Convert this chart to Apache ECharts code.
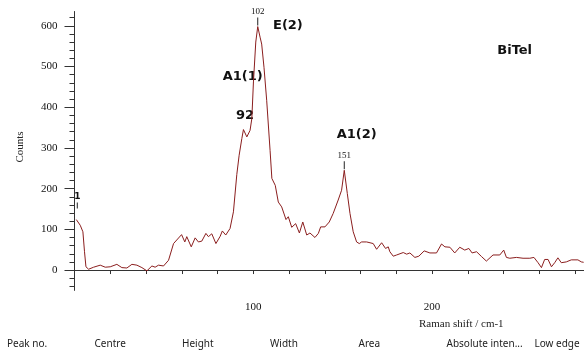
<!DOCTYPE html>
<html>
<head>
<meta charset="utf-8">
<script src="https://cdn.jsdelivr.net/npm/echarts@6/dist/echarts.min.js"></script>
<style>
  html, body { margin: 0; padding: 0; background: #fff; }
  #chart { width: 584px; height: 354px; }
</style>
</head>
<body>
<div id="chart"></div>
<script>
// Raman spectrum of BiTel
var ramanShift = [1.0, 3.2, 4.7, 5.6, 6.4, 7.9, 10.7, 14.4, 17.2, 20.0, 23.7, 26.5, 29.3, 32.1, 34.9, 37.7, 40.5, 43.3, 45.1, 47.0,
  49.8, 50.7, 52.6, 55.4, 59.9, 61.7, 62.8, 65.3, 67.5, 69.3, 71.2, 73.5, 74.9, 76.8, 79.1, 81.5, 82.7, 84.6, 87.0, 88.9,
  90.8, 92.1, 93.6, 94.5, 96.4, 98.2, 99.2, 100.1, 101.4, 102.5, 103.8, 104.7, 106.0, 107.5, 109.4, 110.4, 112.3, 114.0, 115.9, 118.3,
  119.6, 121.5, 123.7, 125.8, 127.7, 129.9, 131.7, 134.5, 136.4, 137.7, 140.1, 142.5, 144.7, 147.5, 149.4, 150.9, 152.6, 154.1, 155.9, 157.8,
  159.3, 160.6, 163.4, 165.3, 167.1, 169.0, 171.8, 174.0, 175.5, 176.4, 178.3, 180.2, 183.9, 185.8, 187.6, 190.4, 192.6, 195.6, 198.8, 202.5,
  205.3, 207.2, 210.0, 212.7, 215.5, 218.3, 220.6, 222.4, 224.9, 227.7, 230.4, 234.1, 237.9, 240.1, 241.6, 243.5, 247.2, 250.9, 254.7, 257.0,
  259.3, 261.2, 263.0, 264.9, 266.8, 268.6, 270.4, 272.3, 275.1, 277.9, 281.6, 283.5, 284.8];
var counts = [124, 110, 94, 45, 8, 2, 7, 12, 7, 8, 14, 6, 5, 14, 12, 6, -2, 10, 7, 12,
  10, 14, 24, 65, 87, 69, 82, 57, 79, 69, 71, 90, 82, 89, 65, 83, 96, 86, 102, 143,
  235, 282, 323, 345, 327, 343, 372, 462, 560, 598, 572, 555, 498, 417, 294, 225, 208, 167, 155, 124,
  131, 105, 114, 91, 118, 86, 91, 80, 90, 106, 106, 118, 139, 172, 196, 245, 188, 139, 94, 69,
  65, 69, 69, 67, 65, 51, 67, 53, 57, 45, 34, 37, 43, 39, 42, 31, 34, 47, 42, 42,
  64, 57, 56, 42, 56, 49, 53, 42, 45, 33, 22, 37, 37, 49, 31, 29, 31, 29, 29, 31,
  18, 6, 26, 26, 8, 18, 30, 18, 20, 25, 25, 20, 19];

// axis ticks and labels
var yMajorTicks = [0, 100, 200, 300, 400, 500, 600];
var yMinorTicks = [-40, -20, 0, 20, 40, 60, 80, 100, 120, 140, 160, 180, 200, 220, 240, 260, 280, 300, 320, 340,
  360, 380, 400, 420, 440, 460, 480, 500, 520, 540, 560, 580, 600, 620];
var xTicks = [20, 40, 60, 80, 100, 120, 140, 160, 180, 200, 220, 240, 260, 280];
var xLabels = [100, 200];

// peak markers
var peakShift = [1.0, 102.5, 150.9];
var peakText = ['1', '102', '151'];

// band assignments and table header
var bandText = ['E(2)', 'A1(1)', '92', 'A1(2)', 'BiTel'];
var headerText = ['Peak no.', 'Centre', 'Height', 'Width', 'Area', 'Absolute inten...', 'Low edge'];

var lineColor = '#8b1e1e';
var serif = '"Liberation Serif", "DejaVu Serif", serif';
var bold = '"DejaVu Sans", Verdana, sans-serif';

var chart = echarts.init(document.getElementById('chart'));

var seriesData = ramanShift.map(function (x, i) { return [x, counts[i]]; });

var markData = peakShift.map(function (x, i) {
  var y = counts[ramanShift.indexOf(x)];
  var first = i === 0;
  return {
    coord: [x, y],
    value: peakText[i],
    symbol: 'rect',
    symbolSize: first ? [1, 6] : [1, 8],
    symbolOffset: first ? [1, -14] : [0, -5],
    label: {
      show: true,
      position: 'top',
      distance: 1,
      formatter: peakText[i],
      color: '#111',
      fontFamily: first ? bold : serif,
      fontWeight: first ? 'bold' : 'normal',
      fontSize: 9
    }
  };
});

var bandPos = [[273, 25.7], [222.7, 77], [236, 115.5], [336.7, 134.3], [497.3, 51]];
var headerX = [7, 94.5, 182, 270, 358.5, 446.5, 534.5];

var graphics = [];
bandText.forEach(function (t, i) {
  graphics.push({
    type: 'text', x: bandPos[i][0], y: bandPos[i][1],
    style: { text: t, fill: '#111', font: 'bold 13px ' + bold, verticalAlign: 'middle' }
  });
});
graphics.push({
  type: 'text', x: 419, y: 324,
  style: { text: 'Raman shift / cm-1', fill: '#222', font: '11px ' + serif, verticalAlign: 'middle' }
});
graphics.push({
  type: 'text', x: 20, y: 147, rotation: Math.PI / 2,
  style: { text: 'Counts', fill: '#222', font: '11px ' + serif, align: 'center', verticalAlign: 'middle' }
});
headerText.forEach(function (t, i) {
  graphics.push({
    type: 'text', x: headerX[i], y: 344.5,
    style: { text: t, fill: '#222', font: '10px "Noto Sans", sans-serif', verticalAlign: 'middle' }
  });
});

var option = {
  backgroundColor: '#fff',
  animation: false,
  grid: { left: 74.5, right: 0, top: 11.5, bottom: 63.6 },
  xAxis: {
    type: 'value',
    min: 0,
    max: 285,
    axisLine: { show: true, lineStyle: { color: '#333', width: 1 } },
    axisTick: { show: true, customValues: xTicks, length: 4, lineStyle: { color: '#333' } },
    axisLabel: { customValues: xLabels, margin: 11, color: '#111', fontFamily: serif, fontSize: 11 },
    splitLine: { show: false }
  },
  yAxis: [
    {
      type: 'value',
      min: -50,
      max: 635,
      axisLine: { show: true, lineStyle: { color: '#333', width: 1 } },
      axisTick: { show: true, customValues: yMajorTicks, length: 10, lineStyle: { color: '#333' } },
      axisLabel: { customValues: yMajorTicks, margin: 17, color: '#111', fontFamily: serif, fontSize: 11 },
      splitLine: { show: false }
    },
    {
      type: 'value',
      position: 'left',
      min: -50,
      max: 635,
      axisLine: { show: false },
      axisTick: { show: true, customValues: yMinorTicks, length: 5, lineStyle: { color: '#333' } },
      axisLabel: { show: false },
      splitLine: { show: false }
    }
  ],
  series: [{
    type: 'line',
    data: seriesData,
    showSymbol: false,
    symbol: 'none',
    lineStyle: { color: lineColor, width: 1 },
    markPoint: {
      silent: true,
      itemStyle: { color: '#222' },
      data: markData
    }
  }],
  graphic: graphics
};

chart.setOption(option);
</script>
</body>
</html>
